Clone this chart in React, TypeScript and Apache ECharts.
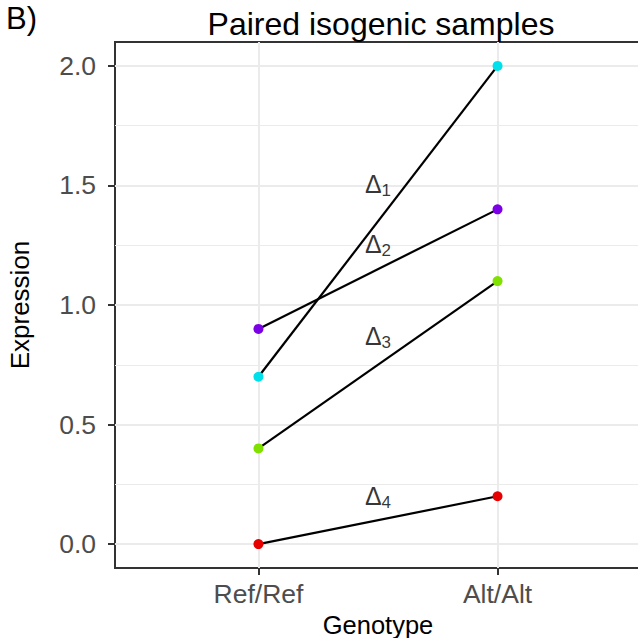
import React, { useEffect, useRef } from "react";
import * as echarts from "echarts";

const genotypes = ["Ref/Ref", "Alt/Alt"];
const genotypePos = [1, 2];
const refExpression = [0.9, 0.7, 0.4, 0.0];
const altExpression = [1.4, 2.0, 1.1, 0.2];
const sampleColors = ["#7A00E6", "#00E0EA", "#80E000", "#E60000"];
const deltaSub = ["2", "1", "3", "4"];
const deltaY = [1.255, 1.505, 0.872, 0.2];
const deltaX = 1.5;
const yTicks = [0, 0.5, 1.0, 1.5, 2.0];
const yMinor = [0.25, 0.75, 1.25, 1.75];
const yRange = [-0.1, 2.1];
const xRange = [0.4, 2.6];

const FONT = "Liberation Sans, Arial, Helvetica, sans-serif";

export default function App() {
  const ref = useRef<HTMLDivElement>(null);
  useEffect(() => {
    if (!ref.current) return;
    const chart = echarts.init(ref.current, undefined, { renderer: "svg" });

    const lineSeries = refExpression.map((r, i) => ({
      type: "line",
      data: [
        [genotypePos[0], r],
        [genotypePos[1], altExpression[i]],
      ],
      symbol: "circle",
      symbolSize: 10,
      showSymbol: true,
      itemStyle: { color: sampleColors[i], borderWidth: 0 },
      lineStyle: { color: "#000", width: 2.2 },
      z: 5,
      silent: true,
    }));

    const option: any = {
      animation: false,
      textStyle: { fontFamily: FONT },
      grid: {
        left: 115,
        width: 526,
        top: 42,
        height: 526,
        outerBoundsMode: "none",
        containLabel: false,
        show: true,
        borderColor: "#333333",
        borderWidth: 2,
        backgroundColor: "#fff",
      },
      title: {
        text: "Paired isogenic samples",
        left: 376,
        top: 3,
        textAlign: "center",
        textStyle: { fontFamily: FONT, fontSize: 32, fontWeight: "normal", color: "#000" },
      },
      graphic: [
        {
          type: "text",
          left: 6,
          top: 3,
          style: { text: "B)", fontFamily: FONT, fontSize: 31, fill: "#000" },
        },
      ],
      xAxis: {
        type: "value",
        position: "bottom",
        min: xRange[0],
        max: xRange[1],
        name: "Genotype",
        nameLocation: "middle",
        nameGap: 40,
        nameTextStyle: { fontFamily: FONT, fontSize: 25.5, lineHeight: 24, color: "#000" },
        axisLine: { show: false, onZero: false },
        axisTick: {
          show: true,
          customValues: genotypePos,
          length: 7,
          lineStyle: { color: "#333333", width: 2 },
        },
        axisLabel: {
          customValues: genotypePos,
          formatter: (v: number) => genotypes[genotypePos.indexOf(v)] ?? "",
          fontFamily: FONT,
          fontSize: 26.5,
          color: "#4D4D4D",
          margin: 12,
        },
        splitLine: { show: true, lineStyle: { color: "#EBEBEB", width: 2 } },
      },
      yAxis: {
        type: "value",
        min: yRange[0],
        max: yRange[1],
        name: "Expression",
        nameLocation: "middle",
        nameGap: 82,
        nameTextStyle: { fontFamily: FONT, fontSize: 26, color: "#000" },
        axisLine: { show: false, onZero: false },
        axisTick: {
          show: true,
          customValues: yTicks,
          length: 7,
          lineStyle: { color: "#333333", width: 2 },
        },
        axisLabel: {
          customValues: yTicks,
          formatter: (v: number) => v.toFixed(1),
          fontFamily: FONT,
          fontSize: 26.5,
          color: "#4D4D4D",
          margin: 19,
        },
        splitLine: { show: true, lineStyle: { color: "#EBEBEB", width: 2 } },
      },
      series: [
        {
          type: "line",
          data: [],
          silent: true,
          z: 1,
          markLine: {
            silent: true,
            symbol: "none",
            label: { show: false },
            lineStyle: { color: "#EBEBEB", width: 1, type: "solid" },
            data: yMinor.map((v) => ({ yAxis: v })),
          },
        },
        ...lineSeries,
        {
          type: "scatter",
          data: deltaY.map((y) => [deltaX, y]),
          symbolSize: 0,
          silent: true,
          z: 10,
          label: {
            show: true,
            position: "inside",
            color: "#000",
            formatter: (p: any) => `{d|Δ}{s|${deltaSub[p.dataIndex]}}`,
            rich: {
              d: { fontFamily: FONT, fontSize: 25, lineHeight: 30, color: "#000", verticalAlign: "middle" },
              s: {
                fontFamily: FONT,
                fontSize: 17,
                lineHeight: 17,
                color: "#000",
                verticalAlign: "bottom",
                padding: [13, 0, 0, 0],
              },
            },
          },
        },
      ],
    };
    chart.setOption(option);
    return () => chart.dispose();
  }, []);
  return (
    <div
      ref={ref}
      style={{ position: "absolute", left: 0, top: 0, width: 638, height: 638, background: "#fff" }}
    />
  );
}
